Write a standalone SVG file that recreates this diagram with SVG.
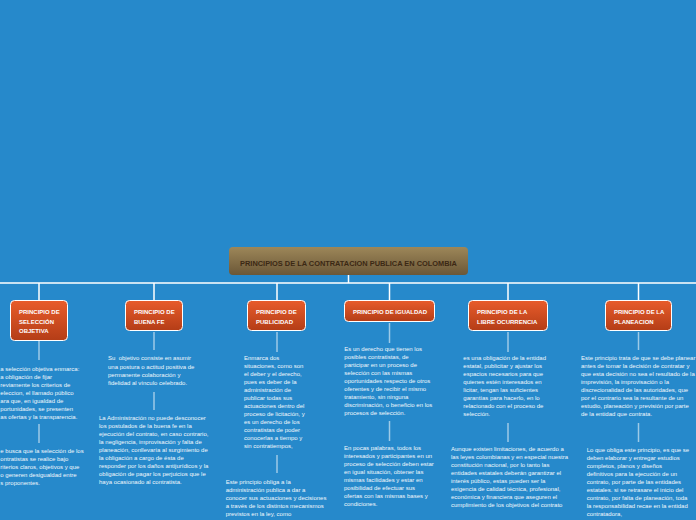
<svg xmlns="http://www.w3.org/2000/svg" width="696" height="520" viewBox="0 0 696 520">
<defs>
<linearGradient id="gN" x1="0" y1="0" x2="0" y2="1"><stop offset="0" stop-color="#e85c2b"/><stop offset="1" stop-color="#b43d17"/></linearGradient>
<linearGradient id="gR" x1="0" y1="0" x2="0" y2="1"><stop offset="0" stop-color="#9d8759"/><stop offset="1" stop-color="#6b5737"/></linearGradient>
<style>
.n{fill:url(#gN);stroke:#fff;stroke-width:1}
.nt{font-family:"Liberation Sans",Arial,sans-serif;font-size:6px;font-weight:bold;fill:#fff}
.t{font-family:"Liberation Sans",Arial,sans-serif;font-size:6px;fill:#f2f7fc}
.c{stroke:#fff;stroke-width:1.5;fill:none}
.s{stroke:#fff;stroke-opacity:0.55;stroke-width:1.5;fill:none}
</style>
</defs>
<rect width="696" height="520" fill="#2689cb"/>
<g id="connectors">
<path class="c" d="M348.5 275V283M0 283H696M39 283V300M154 283V300M277 283V300M389.5 283V300M508 283V300M638.5 283V300"/>
<path class="s" d="M39 341V360M39 424V443M154 332V350M154 392V410M277 332V352M277 455V473M389.5 323V343M389.5 421V441M508 332V352M508 423V442M638.5 332V350M638.5 423V442"/>
</g>
<g id="root">
<rect x="229" y="247" width="239" height="28" rx="4" fill="url(#gR)"/>
<text x="348.5" y="265.5" text-anchor="middle" font-family="Liberation Sans,Arial,sans-serif" font-size="7.4" font-weight="bold" fill="#3b2814">PRINCIPIOS DE LA CONTRATACION PUBLICA EN COLOMBIA</text>
</g>
<g id="n1">
<rect class="n" x="10.5" y="300.5" width="57" height="40" rx="4"/>
<text class="nt" x="19" y="314">PRINCIPIO DE</text>
<text class="nt" x="19" y="324">SELECCIÓN</text>
<text class="nt" x="19" y="333">OBJETIVA</text>
</g>
<g id="t1a" class="t">
<text x="0.3" y="371">a selección objetiva enmarca:</text>
<text x="0.3" y="379">a obligación de fijar</text>
<text x="0.3" y="387">reviamente los criterios de</text>
<text x="0.3" y="395">eleccion, el llamado público</text>
<text x="0.3" y="403">ara que, en igualdad de</text>
<text x="0.3" y="411">portunidades, se presenten</text>
<text x="0.3" y="419">as ofertas y la transparencia.</text>
</g>
<g id="t1b" class="t">
<text x="0.3" y="453">e busca que la selección de los</text>
<text x="0.3" y="461">ontratistas se realice bajo</text>
<text x="0.3" y="469">riterios claros, objetivos y que</text>
<text x="0.3" y="477">o generen desigualdad entre</text>
<text x="0.3" y="485">s proponentes.</text>
</g>
<g id="n2">
<rect class="n" x="125.5" y="300.5" width="57" height="30" rx="4"/>
<text class="nt" x="134" y="314">PRINCIPIO DE</text>
<text class="nt" x="134" y="324">BUENA FE</text>
</g>
<g id="t2a" class="t">
<text x="108" y="360" xml:space="preserve">Su  objetivo consiste en asumir</text>
<text x="108" y="368.5">una postura o actitud positiva de</text>
<text x="108" y="377">permanente colaboración y</text>
<text x="108" y="385">fidelidad al vínculo celebrado.</text>
</g>
<g id="t2b" class="t">
<text x="99" y="420">La Administración no puede desconocer</text>
<text x="99" y="428">los postulados de la buena fe en la</text>
<text x="99" y="436">ejecución del contrato, en caso contrario,</text>
<text x="99" y="444">la negligencia, improvisación y falta de</text>
<text x="99" y="452">planeación, conllevaría al surgimiento de</text>
<text x="99" y="460">la obligación a cargo de ésta de</text>
<text x="99" y="468">responder por los daños antijurídicos y la</text>
<text x="99" y="476">obligación de pagar los perjuicios que le</text>
<text x="99" y="484">haya ocasionado al contratista.</text>
</g>
<g id="n3">
<rect class="n" x="247.5" y="300.5" width="58" height="30" rx="4"/>
<text class="nt" x="256" y="314">PRINCIPIO DE</text>
<text class="nt" x="256" y="324">PUBLICIDAD</text>
</g>
<g id="t3a" class="t">
<text x="244" y="360">Enmarca dos</text>
<text x="244" y="368">situaciones, como son</text>
<text x="244" y="376">el deber y el derecho,</text>
<text x="244" y="384">pues es deber de la</text>
<text x="244" y="392">administración de</text>
<text x="244" y="400">publicar todas sus</text>
<text x="244" y="408">actuaciones dentro del</text>
<text x="244" y="416">proceso de licitación, y</text>
<text x="244" y="424">es un derecho de los</text>
<text x="244" y="432">contratistas de poder</text>
<text x="244" y="440">conocerlas a tiempo y</text>
<text x="244" y="448">sin contratiempos,</text>
</g>
<g id="t3b" class="t">
<text x="225.7" y="484">Este principio obliga a la</text>
<text x="225.7" y="492">administración publica a dar a</text>
<text x="225.7" y="500">conocer sus actuaciones y decisiones</text>
<text x="225.7" y="508">a través de los distintos mecanismos</text>
<text x="225.7" y="516">previstos en la ley, como</text>
</g>
<g id="n4">
<rect class="n" x="344.5" y="300.5" width="90" height="21" rx="4"/>
<text class="nt" x="353" y="314">PRINCIPIO DE IGUALDAD</text>
</g>
<g id="t4a" class="t">
<text x="344.3" y="351">Es un derecho que tienen los</text>
<text x="344.3" y="359">posibles contratistas, de</text>
<text x="344.3" y="367">participar en un proceso de</text>
<text x="344.3" y="375">selección con las mismas</text>
<text x="344.3" y="383">oportunidades respecto de otros</text>
<text x="344.3" y="391">oferentes y de recibir el mismo</text>
<text x="344.3" y="399">tratamiento, sin ninguna</text>
<text x="344.3" y="407">discriminación, o beneficio en los</text>
<text x="344.3" y="415">procesos de selección.</text>
</g>
<g id="t4b" class="t">
<text x="344" y="450">En pocas palabras, todos los</text>
<text x="344" y="458">interesados y participantes en un</text>
<text x="344" y="466">proceso de selección deben estar</text>
<text x="344" y="474">en igual situación, obtener las</text>
<text x="344" y="482">mismas facilidades y estar en</text>
<text x="344" y="490">posibilidad de efectuar sus</text>
<text x="344" y="498">ofertas con las mismas bases y</text>
<text x="344" y="506">condiciones.</text>
</g>
<g id="n5">
<rect class="n" x="468.5" y="300.5" width="79" height="30" rx="4"/>
<text class="nt" x="477" y="314">PRINCIPIO DE LA</text>
<text class="nt" x="477" y="324">LIBRE OCURRENCIA</text>
</g>
<g id="t5a" class="t">
<text x="463.3" y="360">es una obligación de la entidad</text>
<text x="463.3" y="368">estatal, publicitar y ajustar los</text>
<text x="463.3" y="376">espacios necesarios para que</text>
<text x="463.3" y="384">quienes estén interesados en</text>
<text x="463.3" y="392">licitar, tengan las suficientes</text>
<text x="463.3" y="400">garantías para hacerlo, en lo</text>
<text x="463.3" y="408">relacionado con el proceso de</text>
<text x="463.3" y="416">selección.</text>
</g>
<g id="t5b" class="t" xml:space="preserve">
<text x="451" y="451">Aunque existen limitaciones, de  acuerdo a</text>
<text x="451" y="459">las leyes colombianas y en especial nuestra</text>
<text x="451" y="467">constitución nacional, por lo tanto las</text>
<text x="451" y="475">entidades estatales deberán garantizar el</text>
<text x="451" y="483">interés público, estas pueden ser  la</text>
<text x="451" y="491">exigencia de calidad técnica, profesional,</text>
<text x="451" y="499">económica y financiera que aseguren el</text>
<text x="451" y="507">cumplimiento de los objetivos del contrato</text>
</g>
<g id="n6">
<rect class="n" x="605.5" y="300.5" width="66" height="30" rx="4"/>
<text class="nt" x="614" y="314">PRINCIPIO DE LA</text>
<text class="nt" x="614" y="324">PLANEACION</text>
</g>
<g id="t6a" class="t">
<text x="581" y="360">Este principio trata de que se debe planear</text>
<text x="581" y="368">antes de tomar la decisión de contratar y</text>
<text x="581" y="376">que esta decisión no sea el resultado de la</text>
<text x="581" y="384">imprevisión, la improvisación o la</text>
<text x="581" y="392">discrecionalidad de las autoridades, que</text>
<text x="581" y="400">por el contrario sea la resultante de un</text>
<text x="581" y="408">estudio, planeación y previsión por parte</text>
<text x="581" y="416">de la entidad que contrata.</text>
</g>
<g id="t6b" class="t">
<text x="586.7" y="452">Lo que obliga este principio, es que se</text>
<text x="586.7" y="460">deben elaborar y entregar estudios</text>
<text x="586.7" y="468">completos, planos y diseños</text>
<text x="586.7" y="476">definitivos para la ejecución de un</text>
<text x="586.7" y="484">contrato, por parte de las entidades</text>
<text x="586.7" y="492">estatales. si se retrasare el inicio del</text>
<text x="586.7" y="500">contrato, por falta de planeación, toda</text>
<text x="586.7" y="508">la responsabilidad recae en la entidad</text>
<text x="586.7" y="516">contratadora,</text>
</g>
</svg>
